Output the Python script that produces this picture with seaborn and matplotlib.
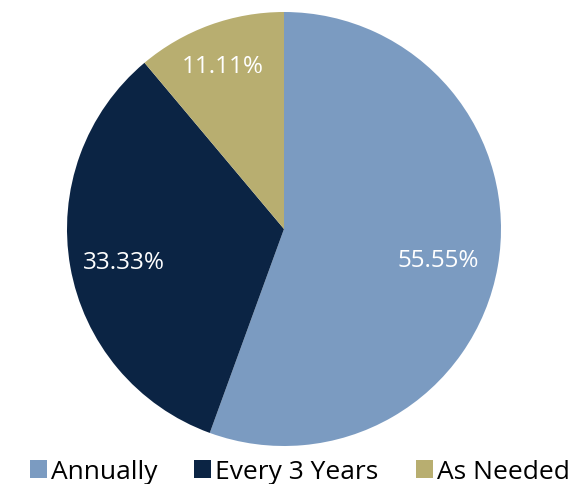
import numpy as np
import matplotlib
matplotlib.use("Agg")
import matplotlib.pyplot as plt
import seaborn as sns
from matplotlib.patches import Patch

sns.set_theme(style="white")
plt.rcParams["font.family"] = ["Open Sans", "DejaVu Sans"]
plt.rcParams["text.color"] = "black"

categories = ["Annually", "Every 3 Years", "As Needed"]
shares = [55.55, 33.33, 11.11]
colors = ["#7b9bc1", "#0b2444", "#b8ae70"]
label_dist = [0.72, 0.75, 0.82]

fig = plt.figure(figsize=(5.73, 4.85), dpi=100)
ax = fig.add_axes([67 / 573, 38 / 485, 434 / 573, 434 / 485])

wedges, _ = ax.pie(shares, colors=colors, startangle=90, counterclock=False,
                   radius=1.0, wedgeprops=dict(linewidth=0))
ax.set_xlim(-1, 1)
ax.set_ylim(-1, 1)
ax.set_aspect("equal")
ax.axis("off")

for w, v, d in zip(wedges, shares, label_dist):
    mid = np.deg2rad((w.theta1 + w.theta2) / 2)
    ax.text(d * np.cos(mid), d * np.sin(mid) - 0.02, f"{v:.2f}%", color="white",
            fontsize=17.5, ha="center", va="center")

handles = [Patch(facecolor=c, edgecolor="none") for c in colors]
fig.legend(handles, categories, loc="lower center", bbox_to_anchor=(0.523, -0.05),
           ncol=3, frameon=False, fontsize=19, handlelength=0.65, handleheight=0.65,
           handletextpad=0.15, columnspacing=1.4, labelcolor="black")

fig.savefig("out.png", dpi=100)
